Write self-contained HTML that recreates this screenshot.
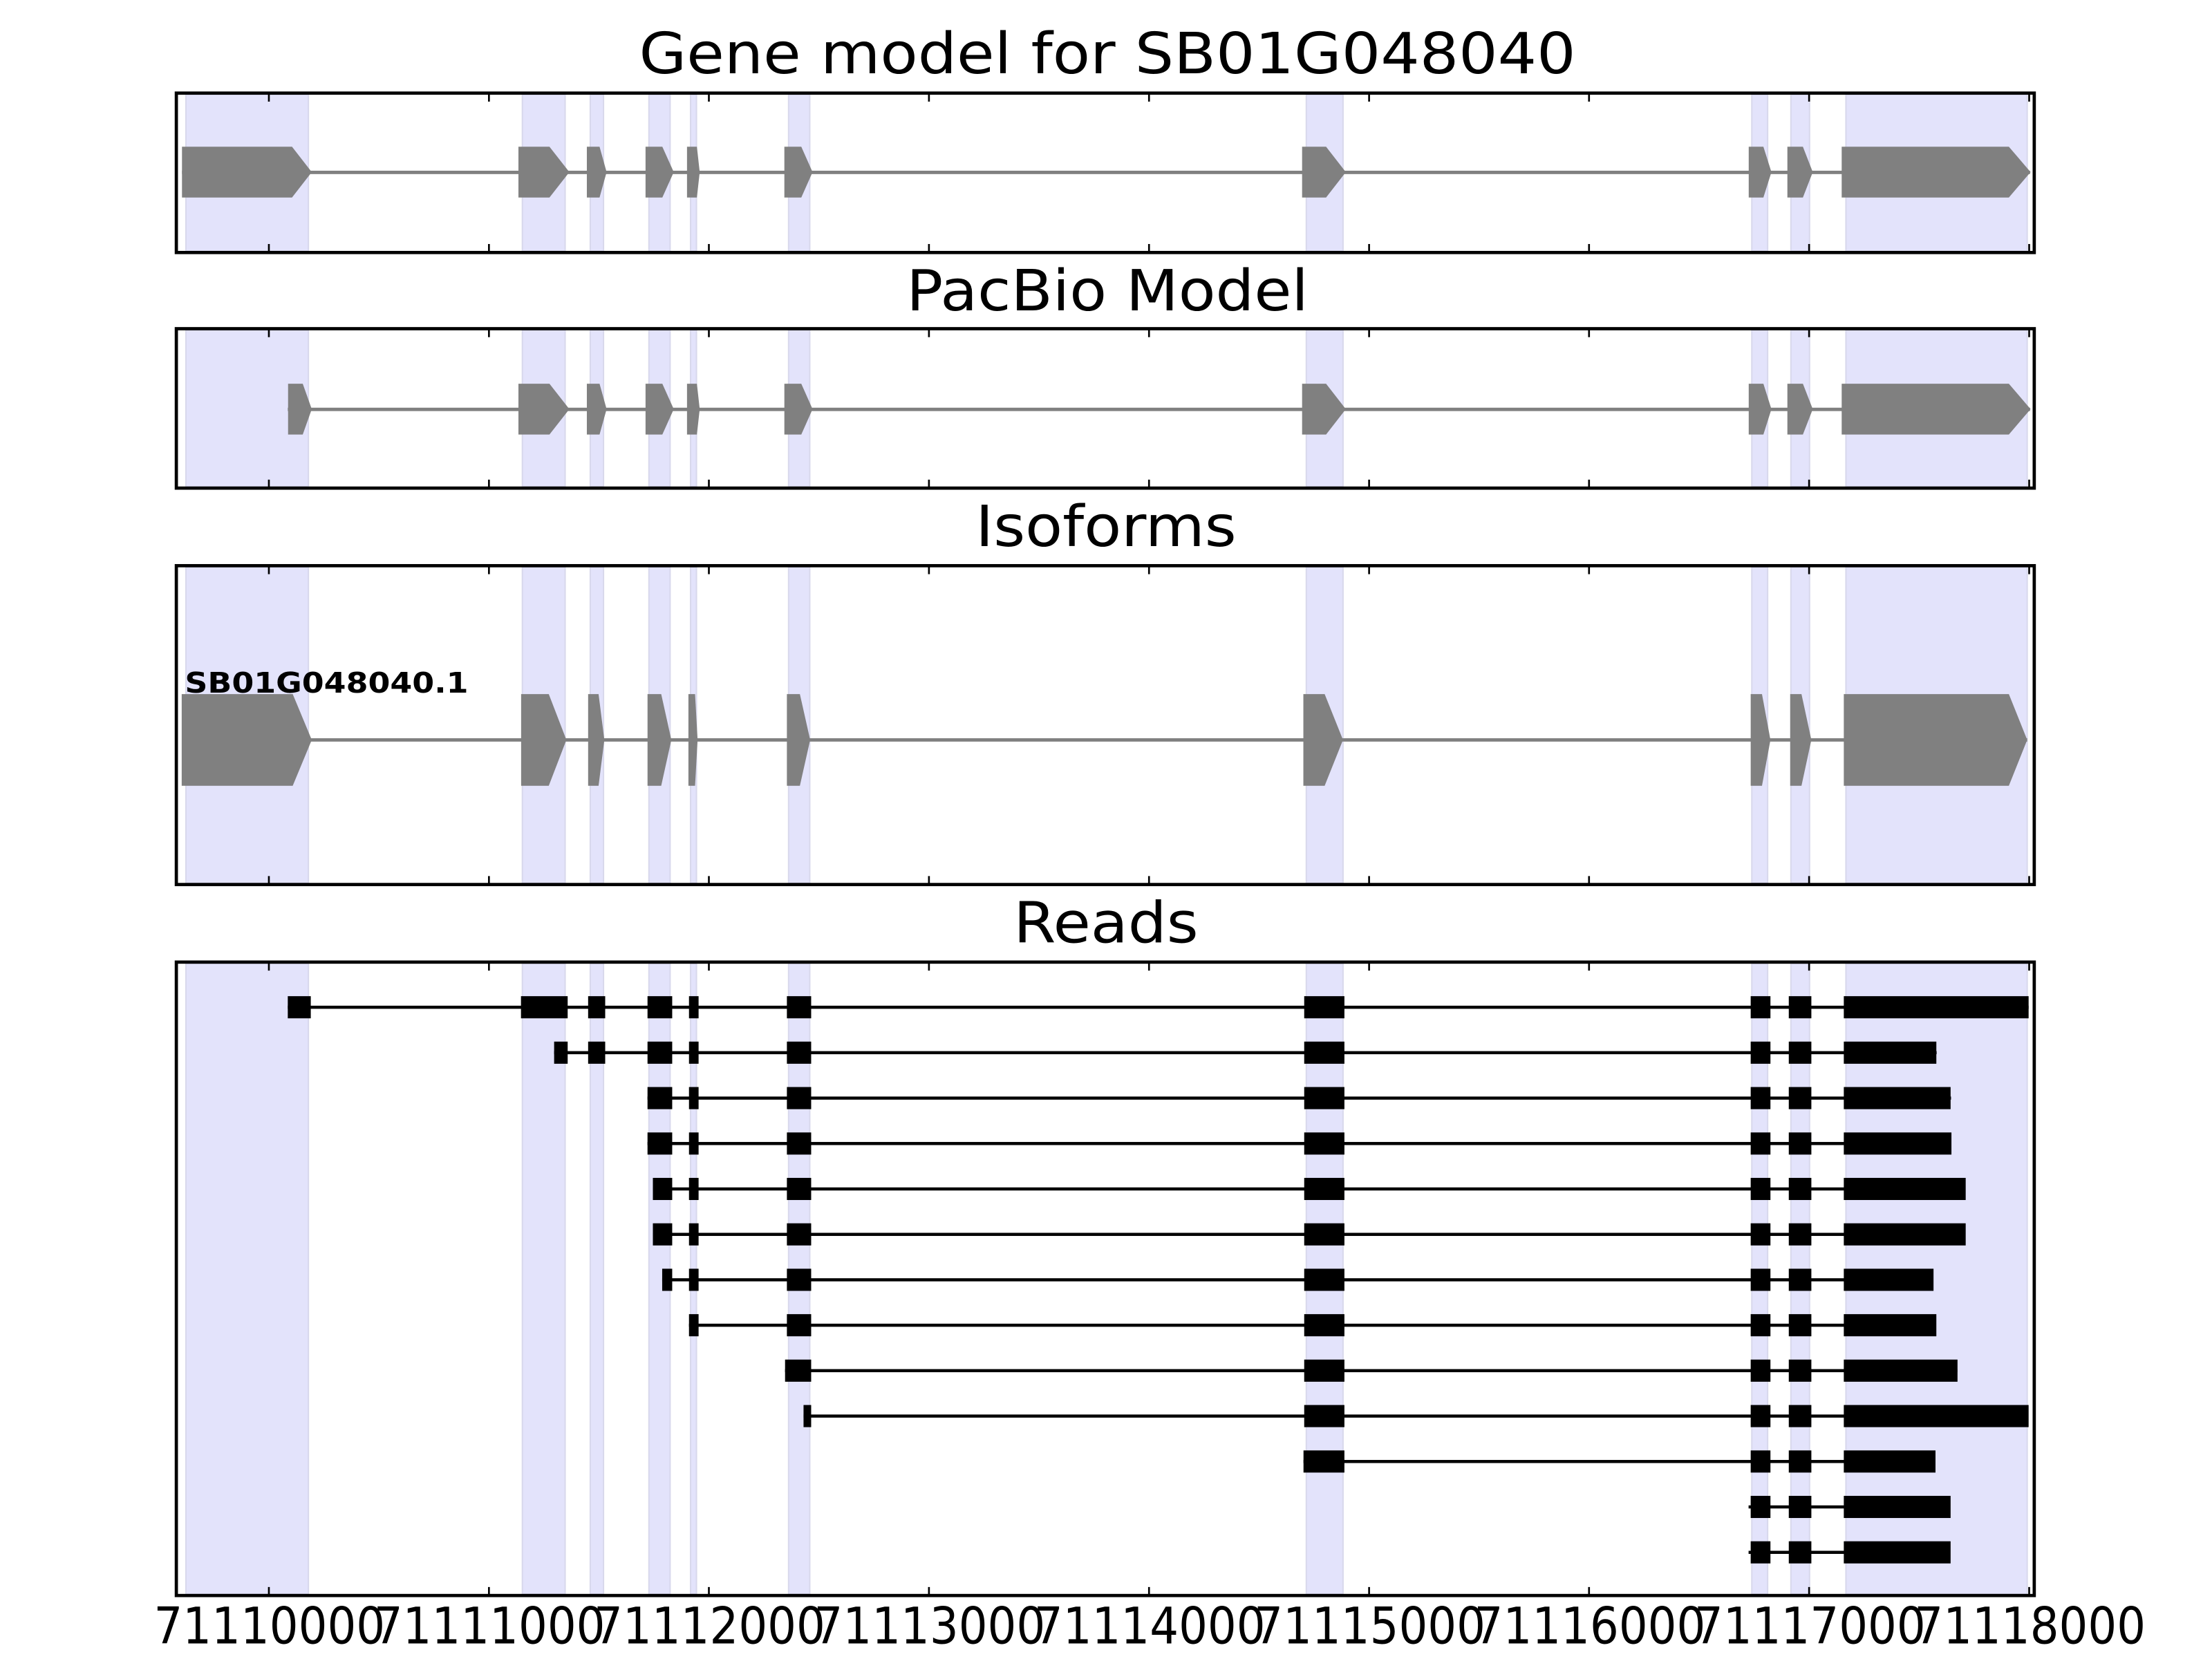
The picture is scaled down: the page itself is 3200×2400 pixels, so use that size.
<!DOCTYPE html>
<html><head><meta charset="utf-8"><style>html,body{margin:0;padding:0;background:#fff}svg{display:block}</style></head>
<body>
<svg xmlns="http://www.w3.org/2000/svg" width="3200" height="2400" viewBox="0 0 1568 1176">
<rect width="1568" height="1176" fill="#fff"/>
<g font-family="DejaVu Sans, Liberation Sans, sans-serif" fill="#000">
<text x="785" y="52" font-size="40" text-anchor="middle" textLength="664" lengthAdjust="spacingAndGlyphs">Gene model for SB01G048040</text>
<text x="785" y="220" font-size="40" text-anchor="middle" textLength="285" lengthAdjust="spacingAndGlyphs">PacBio Model</text>
<text x="784" y="387" font-size="40" text-anchor="middle" textLength="185" lengthAdjust="spacingAndGlyphs">Isoforms</text>
<text x="784" y="668" font-size="40" text-anchor="middle" textLength="131" lengthAdjust="spacingAndGlyphs">Reads</text>
</g>

<g fill="#e3e3fb" stroke="#d8d8ec" stroke-width="1">
<g>
<rect x="131.8" y="67" width="86.8" height="111"/>
<rect x="370.3" y="67" width="30.3" height="111"/>
<rect x="418.4" y="67" width="9.4" height="111"/>
<rect x="460" y="67" width="15" height="111"/>
<rect x="489.5" y="67" width="4.2" height="111"/>
<rect x="559" y="67" width="15" height="111"/>
<rect x="926" y="67" width="26" height="111"/>
<rect x="1241.8" y="67" width="11.2" height="111"/>
<rect x="1269.5" y="67" width="13.2" height="111"/>
<rect x="1308.5" y="67" width="128.5" height="111"/>
</g>
<g transform="translate(0,167)">
<rect x="131.8" y="67" width="86.8" height="111"/>
<rect x="370.3" y="67" width="30.3" height="111"/>
<rect x="418.4" y="67" width="9.4" height="111"/>
<rect x="460" y="67" width="15" height="111"/>
<rect x="489.5" y="67" width="4.2" height="111"/>
<rect x="559" y="67" width="15" height="111"/>
<rect x="926" y="67" width="26" height="111"/>
<rect x="1241.8" y="67" width="11.2" height="111"/>
<rect x="1269.5" y="67" width="13.2" height="111"/>
<rect x="1308.5" y="67" width="128.5" height="111"/>
</g>
<g>
<rect x="131.8" y="402" width="86.8" height="224"/>
<rect x="370.3" y="402" width="30.3" height="224"/>
<rect x="418.4" y="402" width="9.4" height="224"/>
<rect x="460" y="402" width="15" height="224"/>
<rect x="489.5" y="402" width="4.2" height="224"/>
<rect x="559" y="402" width="15" height="224"/>
<rect x="926" y="402" width="26" height="224"/>
<rect x="1241.8" y="402" width="11.2" height="224"/>
<rect x="1269.5" y="402" width="13.2" height="224"/>
<rect x="1308.5" y="402" width="128.5" height="224"/>
</g>
<g>
<rect x="131.8" y="683" width="86.8" height="447"/>
<rect x="370.3" y="683" width="30.3" height="447"/>
<rect x="418.4" y="683" width="9.4" height="447"/>
<rect x="460" y="683" width="15" height="447"/>
<rect x="489.5" y="683" width="4.2" height="447"/>
<rect x="559" y="683" width="15" height="447"/>
<rect x="926" y="683" width="26" height="447"/>
<rect x="1241.8" y="683" width="11.2" height="447"/>
<rect x="1269.5" y="683" width="13.2" height="447"/>
<rect x="1308.5" y="683" width="128.5" height="447"/>
</g>
</g>

<g fill="#808080">
<rect x="129" y="121" width="1310" height="2.4"/>
<polygon points="129,104 207,104 221,122 207,140 129,140"/>
<polygon points="367.5,104 389.5,104 403.6,122 389.5,140 367.5,140"/>
<polygon points="416,104 425,104 430,122 425,140 416,140"/>
<polygon points="457.6,104 469.5,104 477.6,122 469.5,140 457.6,140"/>
<polygon points="487,104 494,104 496,122 494,140 487,140"/>
<polygon points="556,104 568,104 576,122 568,140 556,140"/>
<polygon points="923,104 940,104 954,122 940,140 923,140"/>
<polygon points="1239.6,104 1250,104 1255.7,122 1250,140 1239.6,140"/>
<polygon points="1267,104 1278,104 1285,122 1278,140 1267,140"/>
<polygon points="1305.5,104 1424,104 1439.4,122 1424,140 1305.5,140"/>
</g>
<g fill="#808080">
<rect x="204" y="289" width="1235" height="2.4"/>
<polygon points="204.2,272 214.6,272 221,290 214.6,308 204.2,308"/>
<polygon points="367.5,272 389.5,272 403.6,290 389.5,308 367.5,308"/>
<polygon points="416,272 425,272 430,290 425,308 416,308"/>
<polygon points="457.6,272 469.5,272 477.6,290 469.5,308 457.6,308"/>
<polygon points="487,272 494,272 496,290 494,308 487,308"/>
<polygon points="556,272 568,272 576,290 568,308 556,308"/>
<polygon points="923,272 940,272 954,290 940,308 923,308"/>
<polygon points="1239.6,272 1250,272 1255.7,290 1250,308 1239.6,308"/>
<polygon points="1267,272 1278,272 1285,290 1278,308 1267,308"/>
<polygon points="1305.5,272 1424,272 1439.4,290 1424,308 1305.5,308"/>
</g>
<g fill="#808080">
<rect x="129" y="523.3" width="1308" height="2.4"/>
<polygon points="128.8,492 207.5,492 221,524.5 207.5,557 128.8,557"/>
<polygon points="369.4,492 389,492 401.5,524.5 389,557 369.4,557"/>
<polygon points="416.9,492 424.3,492 428.4,524.5 424.3,557 416.9,557"/>
<polygon points="459,492 468.7,492 475.9,524.5 468.7,557 459,557"/>
<polygon points="488,492 492.7,492 494.5,524.5 492.7,557 488,557"/>
<polygon points="557.8,492 567,492 574.3,524.5 567,557 557.8,557"/>
<polygon points="923.9,492 939,492 952,524.5 939,557 923.9,557"/>
<polygon points="1241,492 1249,492 1255,524.5 1249,557 1241,557"/>
<polygon points="1269,492 1277,492 1284,524.5 1277,557 1269,557"/>
<polygon points="1307,492 1424,492 1437,524.5 1424,557 1307,557"/>
</g>
<text x="131" y="491" font-family="DejaVu Sans, Liberation Sans, sans-serif" font-weight="bold" font-size="20" textLength="201" lengthAdjust="spacingAndGlyphs" fill="#000">SB01G048040.1</text>

<g fill="#000" stroke="none">
<g transform="translate(0,714)">
<rect x="204" y="-1.1" width="1234" height="2.2"/>
<rect x="204" y="-7.85" width="16.3" height="15.7"/><rect x="369.3" y="-7.85" width="33.1" height="15.7"/><rect x="416.9" y="-7.85" width="12.1" height="15.7"/><rect x="459" y="-7.85" width="17.5" height="15.7"/><rect x="488.4" y="-7.85" width="6.8" height="15.7"/><rect x="557.8" y="-7.85" width="17.2" height="15.7"/><rect x="924.5" y="-7.85" width="28.5" height="15.7"/><rect x="1241" y="-7.85" width="14" height="15.7"/><rect x="1268" y="-7.85" width="16" height="15.7"/><rect x="1307" y="-7.85" width="131" height="15.7"/>
</g>
<g transform="translate(0,746.2)">
<rect x="392.8" y="-1.1" width="980" height="2.2"/>
<rect x="392.8" y="-7.85" width="9.6" height="15.7"/><rect x="416.9" y="-7.85" width="12.1" height="15.7"/><rect x="459" y="-7.85" width="17.5" height="15.7"/><rect x="488.4" y="-7.85" width="6.8" height="15.7"/><rect x="557.8" y="-7.85" width="17.2" height="15.7"/><rect x="924.5" y="-7.85" width="28.5" height="15.7"/><rect x="1241" y="-7.85" width="14" height="15.7"/><rect x="1268" y="-7.85" width="16" height="15.7"/><rect x="1307" y="-7.85" width="65.6" height="15.7"/>
</g>
<g transform="translate(0,778.4)">
<rect x="459" y="-1.1" width="924" height="2.2"/>
<rect x="459" y="-7.85" width="17.5" height="15.7"/><rect x="488.4" y="-7.85" width="6.8" height="15.7"/><rect x="557.8" y="-7.85" width="17.2" height="15.7"/><rect x="924.5" y="-7.85" width="28.5" height="15.7"/><rect x="1241" y="-7.85" width="14" height="15.7"/><rect x="1268" y="-7.85" width="16" height="15.7"/><rect x="1307" y="-7.85" width="75.7" height="15.7"/>
</g>
<g transform="translate(0,810.6)">
<rect x="459" y="-1.1" width="924" height="2.2"/>
<rect x="459" y="-7.85" width="17.5" height="15.7"/><rect x="488.4" y="-7.85" width="6.8" height="15.7"/><rect x="557.8" y="-7.85" width="17.2" height="15.7"/><rect x="924.5" y="-7.85" width="28.5" height="15.7"/><rect x="1241" y="-7.85" width="14" height="15.7"/><rect x="1268" y="-7.85" width="16" height="15.7"/><rect x="1307" y="-7.85" width="76.3" height="15.7"/>
</g>
<g transform="translate(0,842.8)">
<rect x="462.8" y="-1.1" width="930" height="2.2"/>
<rect x="462.8" y="-7.85" width="13.7" height="15.7"/><rect x="488.4" y="-7.85" width="6.8" height="15.7"/><rect x="557.8" y="-7.85" width="17.2" height="15.7"/><rect x="924.5" y="-7.85" width="28.5" height="15.7"/><rect x="1241" y="-7.85" width="14" height="15.7"/><rect x="1268" y="-7.85" width="16" height="15.7"/><rect x="1307" y="-7.85" width="86.4" height="15.7"/>
</g>
<g transform="translate(0,875)">
<rect x="462.8" y="-1.1" width="930" height="2.2"/>
<rect x="462.8" y="-7.85" width="13.7" height="15.7"/><rect x="488.4" y="-7.85" width="6.8" height="15.7"/><rect x="557.8" y="-7.85" width="17.2" height="15.7"/><rect x="924.5" y="-7.85" width="28.5" height="15.7"/><rect x="1241" y="-7.85" width="14" height="15.7"/><rect x="1268" y="-7.85" width="16" height="15.7"/><rect x="1307" y="-7.85" width="86.4" height="15.7"/>
</g>
<g transform="translate(0,907.2)">
<rect x="469.4" y="-1.1" width="901" height="2.2"/>
<rect x="469.4" y="-7.85" width="7.1" height="15.7"/><rect x="488.4" y="-7.85" width="6.8" height="15.7"/><rect x="557.8" y="-7.85" width="17.2" height="15.7"/><rect x="924.5" y="-7.85" width="28.5" height="15.7"/><rect x="1241" y="-7.85" width="14" height="15.7"/><rect x="1268" y="-7.85" width="16" height="15.7"/><rect x="1307" y="-7.85" width="63.6" height="15.7"/>
</g>
<g transform="translate(0,939.4)">
<rect x="488.4" y="-1.1" width="884" height="2.2"/>
<rect x="488.4" y="-7.85" width="6.8" height="15.7"/><rect x="557.8" y="-7.85" width="17.2" height="15.7"/><rect x="924.5" y="-7.85" width="28.5" height="15.7"/><rect x="1241" y="-7.85" width="14" height="15.7"/><rect x="1268" y="-7.85" width="16" height="15.7"/><rect x="1307" y="-7.85" width="65.6" height="15.7"/>
</g>
<g transform="translate(0,971.6)">
<rect x="556.5" y="-1.1" width="831" height="2.2"/>
<rect x="556.5" y="-7.85" width="18.5" height="15.7"/><rect x="924.5" y="-7.85" width="28.5" height="15.7"/><rect x="1241" y="-7.85" width="14" height="15.7"/><rect x="1268" y="-7.85" width="16" height="15.7"/><rect x="1307" y="-7.85" width="80.6" height="15.7"/>
</g>
<g transform="translate(0,1003.8)">
<rect x="569.6" y="-1.1" width="868" height="2.2"/>
<rect x="569.6" y="-7.85" width="5.4" height="15.7"/><rect x="924.5" y="-7.85" width="28.5" height="15.7"/><rect x="1241" y="-7.85" width="14" height="15.7"/><rect x="1268" y="-7.85" width="16" height="15.7"/><rect x="1307" y="-7.85" width="131" height="15.7"/>
</g>
<g transform="translate(0,1036)">
<rect x="924" y="-1.1" width="448" height="2.2"/>
<rect x="924" y="-7.85" width="29" height="15.7"/><rect x="1241" y="-7.85" width="14" height="15.7"/><rect x="1268" y="-7.85" width="16" height="15.7"/><rect x="1307" y="-7.85" width="65" height="15.7"/>
</g>
<g transform="translate(0,1068.2)">
<rect x="1239.5" y="-1.1" width="143" height="2.2"/>
<rect x="1241" y="-7.85" width="14" height="15.7"/><rect x="1268" y="-7.85" width="16" height="15.7"/><rect x="1307" y="-7.85" width="75.7" height="15.7"/>
</g>
<g transform="translate(0,1100.4)">
<rect x="1239.5" y="-1.1" width="143" height="2.2"/>
<rect x="1241" y="-7.85" width="14" height="15.7"/><rect x="1268" y="-7.85" width="16" height="15.7"/><rect x="1307" y="-7.85" width="75.7" height="15.7"/>
</g>
</g>

<g fill="none" stroke="#000" stroke-width="2.3">
<rect x="125" y="66" width="1317" height="113"/>
<rect x="125" y="233" width="1317" height="113"/>
<rect x="125" y="401" width="1317" height="226"/>
<rect x="125" y="682" width="1317" height="449"/>
</g>
<g stroke="#000" stroke-width="1.3">
<path d="M190.6,66v6M346.6,66v6M502.5,66v6M658.5,66v6M814.5,66v6M970.5,66v6M1126.4,66v6M1282.4,66v6M1438.4,66v6
M190.6,179v-6M346.6,179v-6M502.5,179v-6M658.5,179v-6M814.5,179v-6M970.5,179v-6M1126.4,179v-6M1282.4,179v-6M1438.4,179v-6"/>
<path d="M190.6,233v6M346.6,233v6M502.5,233v6M658.5,233v6M814.5,233v6M970.5,233v6M1126.4,233v6M1282.4,233v6M1438.4,233v6
M190.6,346v-6M346.6,346v-6M502.5,346v-6M658.5,346v-6M814.5,346v-6M970.5,346v-6M1126.4,346v-6M1282.4,346v-6M1438.4,346v-6"/>
<path d="M190.6,401v6M346.6,401v6M502.5,401v6M658.5,401v6M814.5,401v6M970.5,401v6M1126.4,401v6M1282.4,401v6M1438.4,401v6
M190.6,627v-6M346.6,627v-6M502.5,627v-6M658.5,627v-6M814.5,627v-6M970.5,627v-6M1126.4,627v-6M1282.4,627v-6M1438.4,627v-6"/>
<path d="M190.6,682v6M346.6,682v6M502.5,682v6M658.5,682v6M814.5,682v6M970.5,682v6M1126.4,682v6M1282.4,682v6M1438.4,682v6
M190.6,1131v-6M346.6,1131v-6M502.5,1131v-6M658.5,1131v-6M814.5,1131v-6M970.5,1131v-6M1126.4,1131v-6M1282.4,1131v-6M1438.4,1131v-6"/>
</g>
<g font-family="DejaVu Sans, Liberation Sans, sans-serif" font-size="36" text-anchor="middle" fill="#000">
<text x="191" y="1165" textLength="164" lengthAdjust="spacingAndGlyphs">71110000</text>
<text x="347" y="1165" textLength="164" lengthAdjust="spacingAndGlyphs">71111000</text>
<text x="503" y="1165" textLength="164" lengthAdjust="spacingAndGlyphs">71112000</text>
<text x="659" y="1165" textLength="164" lengthAdjust="spacingAndGlyphs">71113000</text>
<text x="815" y="1165" textLength="164" lengthAdjust="spacingAndGlyphs">71114000</text>
<text x="971" y="1165" textLength="164" lengthAdjust="spacingAndGlyphs">71115000</text>
<text x="1127" y="1165" textLength="164" lengthAdjust="spacingAndGlyphs">71116000</text>
<text x="1283" y="1165" textLength="164" lengthAdjust="spacingAndGlyphs">71117000</text>
<text x="1439" y="1165" textLength="164" lengthAdjust="spacingAndGlyphs">71118000</text>
</g>
</svg>
</body></html>
